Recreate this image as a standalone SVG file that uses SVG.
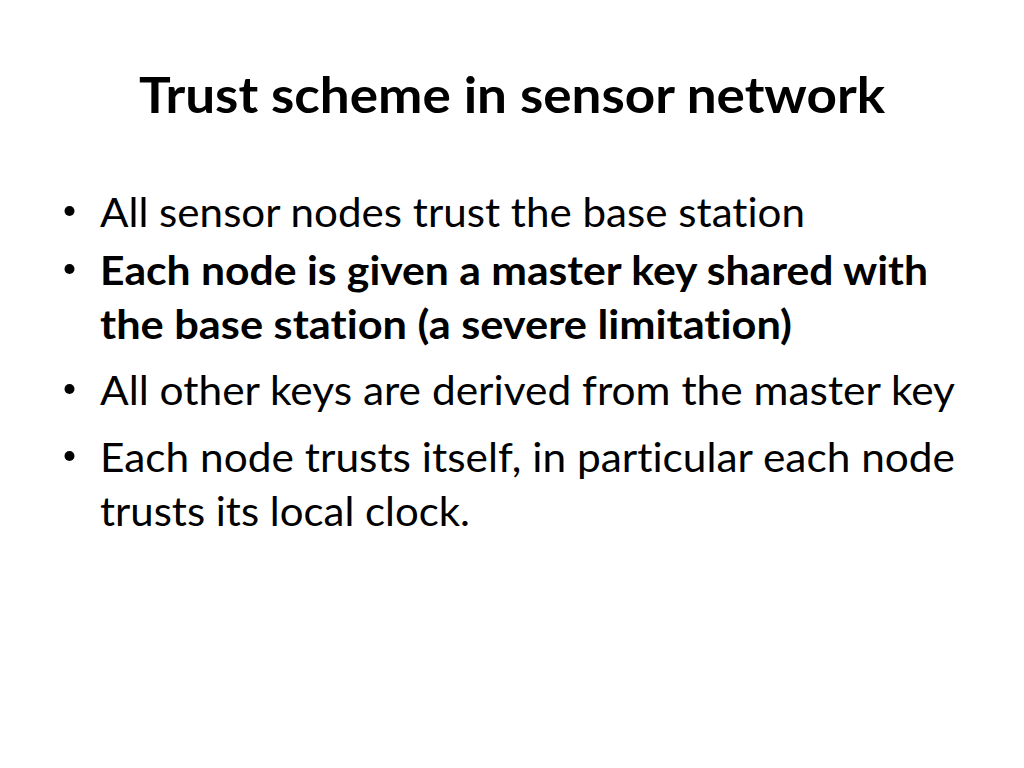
<svg xmlns="http://www.w3.org/2000/svg" width="1024" height="768" viewBox="0 0 1024 768">
<style>
.t{font-family:"Lato","Open Sans","Liberation Sans",sans-serif;fill:#000;font-variant-ligatures:none}
.title{font-size:50px;font-weight:bold}
.b{font-size:41px}
.bb{font-size:41px;font-weight:bold}
</style>
<rect width="1024" height="768" fill="#fff"/>
<g id="title"><text class="t title" x="512" y="113" text-anchor="middle" textLength="746" lengthAdjust="spacingAndGlyphs">Trust scheme in sensor network</text></g>
<g id="bullets">
<g id="b1"><circle cx="69.5" cy="211" r="5"/><text class="t b" x="100" y="227" textLength="705" lengthAdjust="spacingAndGlyphs">All sensor nodes trust the base station</text></g>
<g id="b2"><circle cx="69.5" cy="269" r="5"/><text class="t bb" x="100" y="285" textLength="828" lengthAdjust="spacingAndGlyphs">Each node is given a master key shared with</text><text class="t bb" x="100" y="339" textLength="692" lengthAdjust="spacingAndGlyphs">the base station (a severe limitation)</text></g>
<g id="b3"><circle cx="69.5" cy="389" r="5"/><text class="t b" x="100" y="405" textLength="855" lengthAdjust="spacingAndGlyphs">All other keys are derived from the master key</text></g>
<g id="b4"><circle cx="69.5" cy="456" r="5"/><text class="t b" x="100" y="472" textLength="855" lengthAdjust="spacingAndGlyphs">Each node trusts itself, in particular each node</text><text class="t b" x="100" y="526" textLength="370" lengthAdjust="spacingAndGlyphs">trusts its local clock.</text></g>
</g>
</svg>
